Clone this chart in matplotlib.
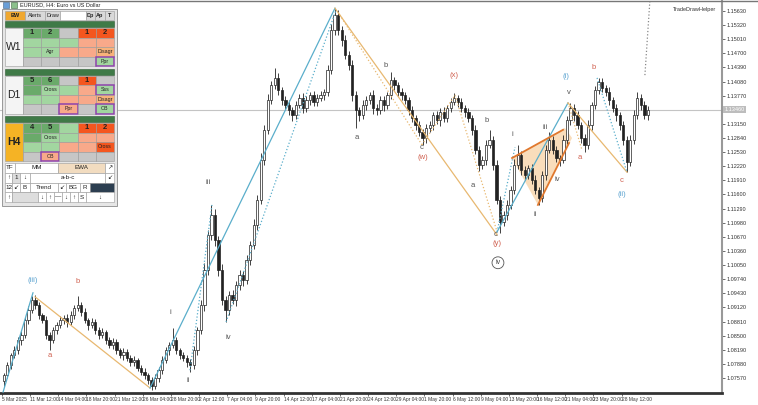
import numpy as np
import matplotlib.pyplot as plt
from matplotlib.patches import Rectangle, Polygon

plt.rcParams['font.family'] = ['Liberation Sans', 'DejaVu Sans']

# EURUSD H4, drawn as 8h candles (2 H4 bars each)
first_open = 1.0750
closes = [
    1.0763, 1.0785, 1.0807, 1.0818, 1.0840, 1.0851, 1.0884, 1.0906, 1.0928, 1.0917,
    1.0895, 1.0884, 1.0851, 1.0840, 1.0862, 1.0873, 1.0884, 1.0889, 1.0880, 1.0895,
    1.0911, 1.0917, 1.0902, 1.0884, 1.0873, 1.0880, 1.0862, 1.0851, 1.0858, 1.0840,
    1.0829, 1.0836, 1.0818, 1.0807, 1.0814, 1.0801, 1.0792, 1.0796, 1.0779, 1.0770,
    1.0763, 1.0752, 1.0739, 1.0757, 1.0774, 1.0796, 1.0818, 1.0829, 1.0840, 1.0818,
    1.0807, 1.0801, 1.0792, 1.0785, 1.0818, 1.0862, 1.0917, 1.0994, 1.1071, 1.1115,
    1.1060, 1.0994, 1.0928, 1.0906, 1.0939, 1.0928, 1.0961, 1.0983, 1.0972, 1.1016,
    1.1049, 1.1093, 1.1148, 1.1236, 1.1302, 1.1367, 1.1400, 1.1416, 1.1389, 1.1367,
    1.1356, 1.1345, 1.1334, 1.1356, 1.1372, 1.1350, 1.1367, 1.1378, 1.1363, 1.1372,
    1.1378, 1.1385, 1.1433, 1.1521, 1.1554, 1.1521, 1.1499, 1.1466, 1.1444, 1.1378,
    1.1345, 1.1334, 1.1356, 1.1367, 1.1378, 1.1350, 1.1345, 1.1367, 1.1356, 1.1378,
    1.1411, 1.1400, 1.1385, 1.1378, 1.1367, 1.1345, 1.1328, 1.1312, 1.1297, 1.1284,
    1.1306, 1.1312, 1.1334, 1.1323, 1.1341, 1.1328, 1.1350, 1.1363, 1.1372, 1.1363,
    1.1350, 1.1341, 1.1328, 1.1302, 1.1258, 1.1225, 1.1236, 1.1269, 1.1280, 1.1225,
    1.1148, 1.1100, 1.1115, 1.1137, 1.1170, 1.1225, 1.1247, 1.1214, 1.1203, 1.1218,
    1.1192, 1.1170, 1.1152, 1.1203, 1.1258, 1.1280, 1.1258, 1.1240, 1.1236, 1.1280,
    1.1323, 1.1350, 1.1334, 1.1312, 1.1284, 1.1269, 1.1312, 1.1356, 1.1389, 1.1407,
    1.1394, 1.1385, 1.1367, 1.1350, 1.1334, 1.1312, 1.1280, 1.1231, 1.1280, 1.1334,
    1.1372, 1.1356, 1.1334, 1.1346,
]
# upper / lower shadow lengths in pips
wick_up = [
    6, 8, 5, 9, 7, 10, 6, 8, 9, 11, 7, 5, 9, 6, 8, 7, 10, 6, 8, 9,
    7, 20, 6, 8, 5, 9, 7, 6, 8, 5, 7, 9, 6, 5, 8, 6, 7, 9, 5, 6,
    8, 5, 7, 9, 6, 10, 8, 7, 26, 6, 5, 8, 6, 7, 9, 8, 12, 15, 10, 21,
    12, 9, 14, 10, 8, 12, 9, 11, 8, 10, 9, 12, 10, 14, 11, 13, 9, 22, 10, 8,
    9, 12, 7, 10, 8, 11, 9, 7, 10, 8, 9, 6, 12, 14, 15, 10, 8, 12, 9, 11,
    10, 8, 12, 9, 7, 11, 8, 10, 9, 7, 17, 8, 6, 9, 7, 8, 10, 6, 9, 7,
    8, 10, 7, 9, 8, 10, 7, 9, 11, 6, 8, 7, 9, 6, 10, 8, 9, 11, 22, 8,
    10, 9, 8, 11, 9, 12, 21, 8, 9, 7, 8, 10, 7, 9, 11, 17, 8, 9, 7, 10,
    9, 11, 8, 10, 7, 9, 11, 8, 10, 8, 9, 7, 10, 8, 9, 7, 10, 8, 11, 12,
    13, 9, 10, 8,
]
wick_dn = [
    12, 7, 9, 6, 8, 10, 7, 9, 6, 8, 9, 7, 8, 21, 6, 9, 7, 8, 10, 6,
    8, 7, 9, 6, 10, 7, 8, 9, 6, 8, 7, 9, 8, 6, 10, 7, 9, 8, 6, 7,
    9, 8, 8, 7, 9, 8, 6, 10, 7, 9, 8, 7, 10, 15, 8, 10, 9, 12, 11, 10,
    14, 12, 10, 26, 11, 9, 12, 10, 13, 9, 10, 8, 11, 9, 12, 10, 8, 9, 11, 10,
    8, 10, 12, 9, 7, 11, 9, 10, 8, 9, 7, 10, 8, 9, 11, 10, 12, 9, 11, 13,
    39, 12, 9, 11, 8, 14, 10, 9, 12, 8, 9, 11, 8, 10, 9, 11, 8, 10, 9, 15,
    10, 8, 11, 9, 12, 8, 10, 9, 7, 10, 9, 11, 8, 12, 10, 14, 9, 11, 8, 12,
    10, 24, 9, 11, 8, 10, 9, 11, 12, 9, 10, 8, 15, 9, 11, 8, 10, 9, 13, 8,
    9, 10, 12, 8, 11, 15, 9, 10, 8, 9, 10, 8, 11, 9, 12, 10, 11, 22, 9, 10,
    8, 11, 9, 10,
]

tick_bars = list(range(0, 353, 16))
tick_labels = ['5 Mar 2025', '11 Mar 12:00', '14 Mar 04:00', '18 Mar 20:00', '21 Mar 12:00',
               '26 Mar 04:00', '28 Mar 20:00', '2 Apr 12:00', '7 Apr 04:00', '9 Apr 20:00',
               '14 Apr 12:00', '17 Apr 04:00', '21 Apr 20:00', '24 Apr 12:00', '29 Apr 04:00',
               '1 May 20:00', '6 May 12:00', '9 May 04:00', '13 May 20:00', '16 May 12:00',
               '21 May 04:00', '23 May 20:00', '28 May 12:00']
price_ticks = [1.07570, 1.07880, 1.08190, 1.08500, 1.08810, 1.09120, 1.09430, 1.09740,
               1.10050, 1.10360, 1.10670, 1.10980, 1.11290, 1.11600, 1.11910, 1.12220,
               1.12530, 1.12840, 1.13150, 1.13770, 1.14080, 1.14390, 1.14700,
               1.15010, 1.15320, 1.15630]

# wave lines: (bar, price) points
blue_c = '#5aaecb'
tan_c = '#e8b870'
wave_lines = [
    ([0.6, 17.6], [1.0726, 1.0944], blue_c, '-'),
    ([18.8, 84.1], [1.0935, 1.0735], tan_c, '-'),
    ([84.1, 189.2], [1.0735, 1.1569], blue_c, '-'),
    ([106.8, 119.3], [1.0774, 1.1137], blue_c, ':'),
    ([127.3, 189.8], [1.0880, 1.1565], blue_c, ':'),
    ([189.2, 281.3], [1.1569, 1.1071], tan_c, '-'),
    ([192.0, 238.6], [1.1554, 1.1269], tan_c, ':'),
    ([238.6, 257.4, 281.3], [1.1269, 1.1378, 1.1078], tan_c, ':'),
    ([281.3, 321.6], [1.1078, 1.1361], blue_c, '-'),
    ([281.3, 291.5], [1.1078, 1.1264], blue_c, ':'),
    ([321.6, 355.1], [1.1361, 1.1209], tan_c, '-'),
    ([338.1, 355.1], [1.1416, 1.1209], blue_c, ':'),
    ([321.6, 329.5], [1.1361, 1.1258], tan_c, ':'),
    ([365.3, 368.2], [1.1422, 1.1590], '#888888', ':'),
]
wedge_x = [289.8, 304.5, 323.9, 319.9]
wedge_y = [1.1240, 1.1137, 1.1284, 1.1306]
wedge_upper = ([289.8, 318.8], [1.1240, 1.1302])
wedge_lower = ([304.5, 322.2], [1.1137, 1.1273])

gray_t = '#555555'
red_t = '#d0604f'
blue_t = '#5ba3d0'
wave_labels = [
    ('(iii)', 17.6, 1.0972, blue_t), ('a', 27.3, 1.0807, red_t), ('b', 43.2, 1.0968, red_t),
    ('i', 95.5, 1.0900, gray_t), ('ii', 105.7, 1.0752, gray_t), ('iii', 117.0, 1.1187, gray_t),
    ('iv', 128.4, 1.0845, gray_t), ('a', 201.7, 1.1284, gray_t), ('b', 218.2, 1.1444, gray_t),
    ('c', 238.6, 1.1264, gray_t), ('(w)', 239.2, 1.1242, red_t), ('(x)', 256.8, 1.1422, red_t),
    ('b', 275.6, 1.1323, gray_t), ('a', 267.6, 1.1179, gray_t), ('c', 280.7, 1.1073, gray_t),
    ('(y)', 281.3, 1.1053, red_t), ('i', 289.8, 1.1291, gray_t), ('ii', 302.8, 1.1115, gray_t),
    ('iii', 308.5, 1.1308, gray_t), ('iv', 315.3, 1.1192, gray_t), ('v', 322.2, 1.1383, gray_t),
    ('(i)', 320.5, 1.1418, blue_t), ('a', 328.4, 1.1242, red_t), ('b', 336.4, 1.1438, red_t),
    ('c', 352.3, 1.1190, red_t), ('(ii)', 352.3, 1.1159, blue_t),
]
circled_label = ('iv', 281.8, 1.1010)

fig = plt.figure(figsize=(7.58, 4.05), dpi=100)
ax = fig.add_axes([0, 12 / 405, 722 / 758, 392 / 405])
ax.set_xlim(-1.14, 409.1)
ax.set_ylim(1.07240, 1.15848)

opens = [first_open] + closes[:-1]
xs = np.arange(len(closes)) * 2 + 1
for x, o, c, wu, wd in zip(xs, opens, closes, wick_up, wick_dn):
    hi = max(o, c) + wu * 0.0001
    lo = min(o, c) - wd * 0.0001
    ax.vlines(x, lo, hi, color='#222222', linewidth=0.6, zorder=3)
    fc = 'white' if c >= o else '#222222'
    ax.bar(x, max(abs(c - o), 0.00004), bottom=min(o, c), width=1.3,
           facecolor=fc, edgecolor='#222222', linewidth=0.5, zorder=4)

# current price line
last = closes[-1]
ax.axhline(last, color='#c4c4c4', linewidth=0.8, zorder=1)

for px, py, col, ls in wave_lines:
    ax.plot(px, py, color=col, linestyle=ls, linewidth=0.9, zorder=5)
ax.add_patch(Polygon(list(zip(wedge_x, wedge_y)), closed=True, facecolor='#f7cf9f',
                     edgecolor='none', alpha=0.7, zorder=2))
ax.plot(*wedge_upper, color='#e0782e', linewidth=1.3, zorder=6)
ax.plot(*wedge_lower, color='#e0782e', linewidth=1.3, zorder=6)

for txt, x, y, col in wave_labels:
    ax.text(x, y, txt, color=col, fontsize=5.5, ha='center', va='center', zorder=7)
ax.text(circled_label[1], circled_label[2], circled_label[0], fontsize=5, color='#444444',
        ha='center', va='center', zorder=7,
        bbox=dict(boxstyle='circle,pad=0.35', facecolor='white', edgecolor='#555555', linewidth=0.6))

# axes styling like MT4
ax.set_xticks(tick_bars)
ax.set_xticklabels(tick_labels, fontsize=3.5, color='#333333', ha='left')
ax.yaxis.tick_right()
ax.set_yticks(price_ticks)
ax.set_yticklabels([f'{v:.5f}' for v in price_ticks], fontsize=4.0, color='#333333')
ax.tick_params(axis='both', length=2, width=0.5, pad=1, colors='#333333')
for s in ['top', 'left']:
    ax.spines[s].set_visible(False)
ax.spines['bottom'].set_linewidth(2.0)
ax.spines['bottom'].set_color('#333333')
ax.spines['right'].set_linewidth(1.5)
ax.spines['right'].set_color('#999999')
ax.text(1.003, last, f'{last:.5f}', transform=ax.get_yaxis_transform(), fontsize=4.0,
        color='white', va='center', ha='left',
        bbox=dict(boxstyle='square,pad=0.2', facecolor='#bdbdbd', edgecolor='none'))
ax.text(0.992, 0.985, 'TradeDrawHelper', transform=ax.transAxes, fontsize=4, color='#333333',
        ha='right', va='top')

# ---- top-left control panel (pixel layout) ----
pan = fig.add_axes([0, 0, 1, 1], facecolor='none')
pan.set_xlim(0, 758)
pan.set_ylim(405, 0)
pan.axis('off')
pan.plot([0, 758], [0.5, 0.5], color='#777777', linewidth=1)


def cell(x0, y0, w, h, fc, txt='', tc='#222222', fs=4, ec='#9a9a9a', lw=0.4, bold=False):
    pan.add_patch(Rectangle((x0, y0), w, h, facecolor=fc, edgecolor=ec, linewidth=lw, zorder=10))
    if txt:
        pan.text(x0 + w / 2, y0 + h / 2, txt, ha='center', va='center', fontsize=fs, color=tc,
                 fontweight='bold' if bold else 'normal', zorder=11)


pan.text(20, 5, 'EURUSD, H4: Euro vs US Dollar', fontsize=4, color='#222222', va='center', zorder=11)
cell(3, 2, 6, 6, '#6a9fd8', ec='#446688')
cell(11, 2, 6, 6, '#8cc08c', ec='#446644')
cell(2, 9, 115, 197, '#e6e6e6', ec='#8a8a8a', lw=0.6)

buttons = [('BW', 5, 25, '#f0a830'), ('Alerts', 25, 45, '#d9d9d9'), ('Draw', 45, 60, '#d9d9d9'),
           ('', 60, 86, '#ffffff'), ('Dp', 86, 95, '#d9d9d9'), ('Ap', 95, 105, '#d9d9d9'),
           ('T', 105, 114, '#d9d9d9')]
for t, x0, x1, fc in buttons:
    cell(x0, 11, x1 - x0, 9, fc, t, fs=4, bold=t in ('BW', 'Dp', 'Ap', 'T'))

DG, LG, GR, RD, SA, OR = '#6aaa6a', '#a2d6a0', '#c6c6c6', '#f4561f', '#f8a98a', '#f8b27a'
block_names = ['W1', 'D1', 'H4']
block_fc = ['#f4f4f4', '#f4f4f4', '#f5b325']
block_rows = [
    [[('1', DG), ('2', DG), ('', GR), ('1', RD), ('2', RD)],
     [('', LG), ('', LG), ('', LG), ('', SA), ('', SA)],
     [('', LG), ('Agr', LG), ('', SA), ('', SA), ('Disagr', OR)],
     [('', GR), ('', GR), ('', GR), ('', GR), ('Ppr', LG, 1)]],
    [[('5', DG), ('6', DG), ('', GR), ('1', RD), ('', GR)],
     [('', DG), ('Cross', LG), ('', LG), ('', SA), ('Sss', LG, 1)],
     [('', LG), ('', LG), ('', SA), ('', SA), ('Disagr', OR)],
     [('', GR), ('', GR), ('Ppr', SA, 1), ('', GR), ('OB', LG, 1)]],
    [[('4', DG), ('5', DG), ('', LG), ('1', RD), ('2', RD)],
     [('', DG), ('Cross', LG), ('', LG), ('', SA), ('', SA)],
     [('', LG), ('', LG), ('', SA), ('', SA), ('Cross', RD)],
     [('', GR), ('OB', SA, 1), ('', GR), ('', GR), ('', GR)]],
]
block_tops = [28, 75.5, 123]
cw, rh = 18.2, 9.5
for name, fc, rows, top in zip(block_names, block_fc, block_rows, block_tops):
    cell(5, top - 7, 109, 6, '#3f7a47', ec='#2d5a33')
    cell(5, top, 18, rh * 4, fc, name, fs=7.5, bold=(name == 'H4'))
    for r, row in enumerate(rows):
        for j, item in enumerate(row):
            x0 = 23 + j * cw
            y0 = top + r * rh
            num = item[0].isdigit()
            if len(item) == 3:
                cell(x0, y0, cw, rh, item[1], item[0], fs=3.8, ec='#8e44ad', lw=1.1)
            else:
                cell(x0, y0, cw, rh, item[1], item[0], fs=5.5 if num else 3.8, bold=num)

ctrl_rows = [
    [('TF', 5, 15, 'w'), ('MM', 15, 58, 'w'), ('EWA', 58, 105, '#f2dcc0'), ('↗', 105, 114, 'w')],
    [('↑', 5, 12, 'w'), ('1', 12, 20, '#dddddd'), ('↓', 20, 30, 'w'), ('a-b-c', 30, 105, 'w'),
     ('↙', 105, 114, 'w')],
    [('12', 5, 12, 'w'), ('↙', 12, 20, 'w'), ('B', 20, 30, 'w'), ('Trend', 30, 58, 'w'),
     ('↙', 58, 66, 'w'), ('BG', 66, 80, 'w'), ('R', 80, 90, 'w'), ('', 90, 114, '#2c3e50')],
    [('↑', 5, 12, 'w'), ('', 12, 38, '#dddddd'), ('↓', 38, 46, 'w'), ('↑', 46, 54, 'w'),
     ('—', 54, 62, 'w'), ('↓', 62, 70, 'w'), ('↑', 70, 78, 'w'), ('S', 78, 86, 'w'),
     ('↓', 86, 114, 'w')],
]
for r, row in enumerate(ctrl_rows):
    y0 = 163 + r * 9.8
    for t, x0, x1, fc in row:
        cell(x0, y0, x1 - x0, 9.8, 'white' if fc == 'w' else fc, t, fs=4.5)

fig.savefig('out.png', dpi=100, facecolor='white')
